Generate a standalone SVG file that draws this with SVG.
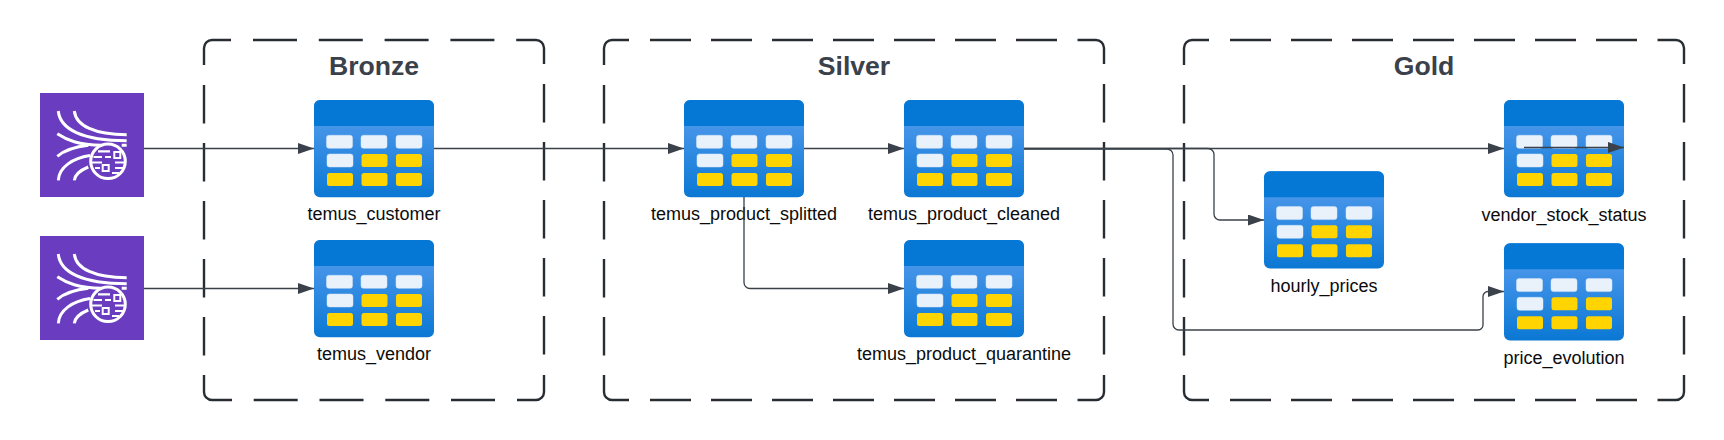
<svg xmlns="http://www.w3.org/2000/svg" width="1724" height="440" viewBox="0 0 1724 440">
<style>
.frame{fill:none;stroke:#282c33;stroke-width:2.4}
.title{font:bold 26.6px "Liberation Sans",Arial,sans-serif;fill:#3a414a;text-anchor:middle}
.label{font:18px "Liberation Sans",Arial,sans-serif;fill:#0b0b0b;text-anchor:middle}
.c{fill:none;stroke:#3a414a;stroke-width:1.3;marker-end:url(#arrow)}
.w{fill:#e9f2fb;stroke:#d5e5f8;stroke-width:.5}
.y{fill:#ffd400}
.s{fill:none;stroke:#fff;stroke-width:3}
</style>
<defs>
<marker id="arrow" markerUnits="userSpaceOnUse" markerWidth="16" markerHeight="11" refX="16" refY="5.500" orient="auto"><path d="M0 0L16 5.500L0 11Z" fill="#3a414a"/></marker>
<linearGradient id="tg" x1="0" y1="0" x2="0" y2="1"><stop offset="0" stop-color="#5b9ff0"/><stop offset="1" stop-color="#0a78d4"/></linearGradient>
<g id="table">
<rect width="120" height="97.300" rx="6" fill="url(#tg)"/>
<path d="M0 26V6a6 6 0 0 1 6-6H114a6 6 0 0 1 6 6V26Z" fill="#0478d4"/>
<rect class="w" x="12.500" y="35.300" width="26" height="13" rx="2.500"/><rect class="w" x="47" y="35.300" width="26" height="13" rx="2.500"/><rect class="w" x="82" y="35.300" width="26" height="13" rx="2.500"/>
<rect class="w" x="13" y="54" width="26" height="13" rx="2.500"/><rect class="y" x="47.500" y="54" width="26" height="13" rx="2.500"/><rect class="y" x="82" y="54" width="26" height="13" rx="2.500"/>
<rect class="y" x="13" y="73" width="26" height="13" rx="2.500"/><rect class="y" x="47.500" y="73" width="26" height="13" rx="2.500"/><rect class="y" x="82" y="73" width="26" height="13" rx="2.500"/>
</g>
<g id="stream">
<rect width="104" height="104" fill="#6a3cc0"/>
<path class="s" d="M18.300 18C20 36 42 47.700 86.700 47.700M34.300 18C36 33 55 41.700 86.700 41.700M17.300 40.700C27 47 38 52 62 52.300M81.700 52.300H86.700M17.300 63.300C25 57 37 53.500 48.300 52.300M18.300 87.300C19 74 33 65 50 62.500M34.300 87.300C35 81 41 77 48.300 74"/>
<circle class="s" cx="68" cy="68.300" r="17.300"/>
<path d="M58 58.300H70M53.500 64H62M65 64H71M50.500 69.500H62M75 69.500H85M55 75H60M75 75H83M72 80H79" stroke="#fff" stroke-width="2.200" fill="none"/>
<rect x="74.300" y="59" width="6" height="6" fill="#6a3cc0" stroke="#fff" stroke-width="2"/>
<rect x="62.700" y="72" width="6" height="6" fill="#6a3cc0" stroke="#fff" stroke-width="2"/>
</g>
<path id="vert" class="frame" d="M0 85V123.500M0 143V181.500M0 201V239.500M0 259V297.500M0 317V355.500"/>
</defs>
<rect width="1724" height="440" fill="#fff"/>
<g id="frame-bronze">
<path class="frame" d="M204 65V48a8 8 0 0 1 8-8H231M253 40H297M318.800 40H362.800M384.600 40H428.600M450.400 40H494.400M516.200 40H536a8 8 0 0 1 8 8V64M544 375V392a8 8 0 0 1-8 8H517M495 400H451M429.300 400H385.300M363.500 400H319.500M297.700 400H253.700M232 400H212a8 8 0 0 1-8-8V375"/>
<use href="#vert" x="204"/><use href="#vert" x="544" y="-1"/>
<text class="title" x="374" y="75">Bronze</text>
</g>
<g id="frame-silver">
<path class="frame" d="M604 65V48a8 8 0 0 1 8-8H629M650 40H691M711 40H752M772 40H813M833 40H874M894 40H935M955 40H996M1016 40H1057M1077.500 40H1096a8 8 0 0 1 8 8V64M1104 375V392a8 8 0 0 1-8 8H1077.500M1057 400H1016M996 400H955M935 400H894M874 400H833M813 400H772M752 400H711M691 400H650M629 400H612a8 8 0 0 1-8-8V375"/>
<use href="#vert" x="604"/><use href="#vert" x="1104" y="-1"/>
<text class="title" x="854" y="75">Silver</text>
</g>
<g id="frame-gold">
<path class="frame" d="M1184 65V48a8 8 0 0 1 8-8H1209M1230 40H1271M1291 40H1332M1352 40H1393M1413 40H1454M1474 40H1515M1535 40H1576M1596 40H1637M1657.500 40H1676a8 8 0 0 1 8 8V64M1684 375V392a8 8 0 0 1-8 8H1657.500M1637 400H1596M1576 400H1535M1515 400H1474M1454 400H1413M1393 400H1352M1332 400H1291M1271 400H1230M1209 400H1192a8 8 0 0 1-8-8V375"/>
<use href="#vert" x="1184"/><use href="#vert" x="1684" y="-1"/>
<text class="title" x="1424" y="75">Gold</text>
</g>
<g id="source-1"><use href="#stream" x="40" y="93"/></g>
<g id="source-2"><use href="#stream" x="40" y="236"/></g>
<g id="temus_customer"><use href="#table" x="314" y="100"/><text class="label" x="374" y="220">temus_customer</text></g>
<g id="temus_vendor"><use href="#table" x="314" y="240"/><text class="label" x="374" y="360">temus_vendor</text></g>
<g id="temus_product_splitted"><use href="#table" x="684" y="100"/><text class="label" x="744" y="220">temus_product_splitted</text></g>
<g id="temus_product_cleaned"><use href="#table" x="904" y="100"/><text class="label" x="964" y="220">temus_product_cleaned</text></g>
<g id="temus_product_quarantine"><use href="#table" x="904" y="240"/><text class="label" x="964" y="360">temus_product_quarantine</text></g>
<g id="hourly_prices"><use href="#table" x="1264" y="171.300"/><text class="label" x="1324" y="292">hourly_prices</text></g>
<g id="vendor_stock_status"><use href="#table" x="1504" y="100"/><text class="label" x="1564" y="221">vendor_stock_status</text></g>
<g id="price_evolution"><use href="#table" x="1504" y="243.300"/><text class="label" x="1564" y="364">price_evolution</text></g>
<g id="connectors">
<path class="c" d="M144 148.500H314"/>
<path class="c" d="M144 288.500H314"/>
<path class="c" d="M434 148.500H684"/>
<path class="c" d="M804 148.500H904"/>
<path class="c" d="M744 197V282.500a6 6 0 0 0 6 6H904"/>
<path class="c" d="M1024 148.500H1504"/>
<path class="c" d="M1024 148.500H1208a6 6 0 0 1 6 6V214a6 6 0 0 0 6 6H1264"/>
<path class="c" d="M1024 149H1167a6 6 0 0 1 6 6V324a6 6 0 0 0 6 6H1478a5 5 0 0 0 5-5V296.500a5 5 0 0 1 5-5H1504"/>
<path class="c" d="M1524 147.500H1624"/>
</g>
</svg>
